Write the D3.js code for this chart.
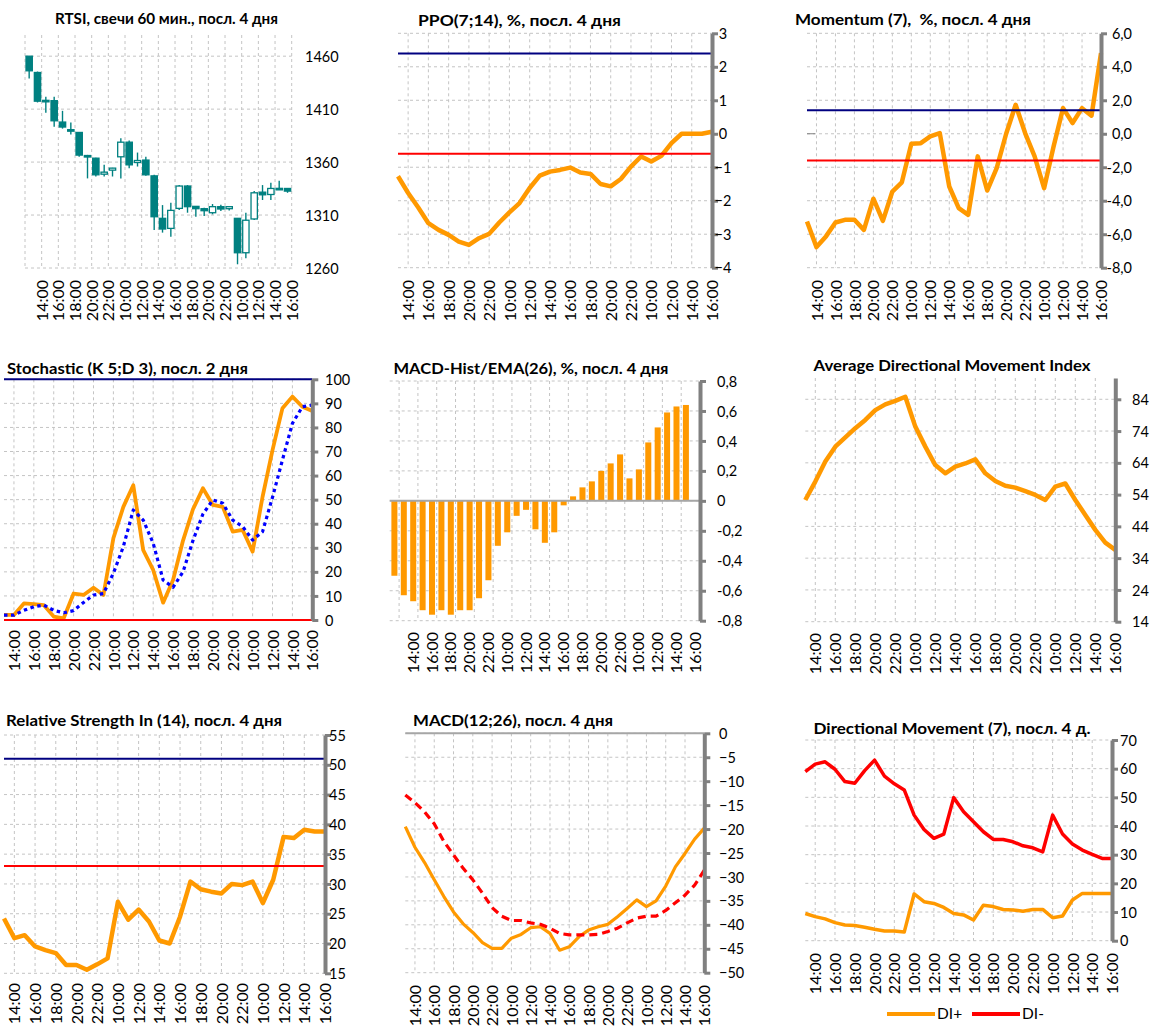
<!DOCTYPE html>
<html lang="ru">
<head>
<meta charset="utf-8">
<title>RTSI - индикаторы, посл. 4 дня</title>
<script src="https://cdn.jsdelivr.net/npm/d3@7"></script>
<style>
  body { margin: 0; background: #fff; }
  svg text { font-family: Lato, "Noto Sans", sans-serif; fill: #000; }
  .title { font-weight: bold; font-size: 15px; white-space: pre; }
  .yaxis .tick text { font-size: 14.5px; }
  .xaxis .tick text { font-size: 16px; }
  .grid line { stroke: #c4c4c4; stroke-width: 1; stroke-dasharray: 3,3; }
</style>
</head>
<body>
<svg id="chart" width="1157" height="1028"></svg>
<script>
// hourly bars, 32 of them over 3 sessions
var hours = ["13:00","14:00","15:00","16:00","17:00","18:00","19:00","20:00","21:00","22:00","23:00",
  "10:00","11:00","12:00","13:00","14:00","15:00","16:00","17:00","18:00","19:00","20:00","21:00","22:00","23:00",
  "10:00","11:00","12:00","13:00","14:00","15:00","16:00"];
var tickIdx = d3.range(1, 32, 2);

// RTSI candles
var cOpen  = [1460,1444.6,1418.3,1418,1397.8,1390.6,1388,1366.2,1363.7,1348.6,1352.4,1365,1378.8,1359.6,1361.9,1347,
              1306.9,1297.4,1316.3,1337.4,1318.2,1316,1312.2,1317.9,1316,1306.9,1274.4,1306.3,1331.6,1329.4,1335.2,1335.1];
var cHigh  = [1460,1445.5,1421.6,1421.6,1408.4,1397.5,1388.5,1366.8,1364,1357.4,1354.6,1382.6,1380.4,1369,1365,1348,
              1319.4,1321.6,1338.3,1338.3,1318.4,1316.9,1320.4,1319.7,1317.9,1307,1312.2,1332.6,1338.3,1340.4,1342.3,1335.3];
var cLow   = [1439,1416.3,1406.7,1393.4,1391.6,1386,1365,1344.6,1346.4,1346.4,1346.4,1344.6,1354.3,1355.8,1347,1295.9,
              1293.4,1289.6,1314.7,1312.2,1308.4,1309,1310.7,1313.8,1314.4,1263.5,1269.1,1305.3,1324.2,1324.2,1334.2,1331];
var cClose = [1446.2,1417.5,1417.8,1399,1393.1,1390.2,1366.6,1365.7,1348,1350.5,1354.3,1378.8,1357.4,1361.5,1348,1308.4,
              1296.8,1314.4,1337.4,1317.9,1316,1314.1,1317.9,1315.7,1317.9,1274.4,1305.1,1331,1329.1,1335.1,1334.8,1332.6];

var ppo = [-1.27,-1.77,-2.2,-2.67,-2.87,-3.02,-3.22,-3.32,-3.12,-2.99,-2.65,-2.35,-2.07,-1.62,-1.25,-1.13,
           -1.08,-1.01,-1.16,-1.2,-1.5,-1.57,-1.35,-0.98,-0.68,-0.83,-0.66,-0.28,0,0,0,0.06];
var momentum = [-5.24,-6.77,-6.13,-5.3,-5.14,-5.14,-5.74,-3.88,-5.2,-3.45,-2.9,-0.6,-0.56,-0.16,0.04,-3.15,
                -4.44,-4.84,-1.35,-3.39,-2.05,0,1.73,0.04,-1.35,-3.25,-0.76,1.53,0.64,1.53,1.08,4.82];
var stochK = [2.1,2.1,6.9,6.6,6.2,1.4,0.7,11,10.4,13.4,10.4,34,47,56,29,20.8,
              7.2,16.6,33,46,54.7,47.8,47,36.7,37.4,28.4,51.2,70.6,88,92.8,88.6,86.8];
var stochD = [2,2,4,5.5,6.2,4,3,3.9,7.3,10.4,11,19.4,30.5,45.7,41.5,31.9,
              16.6,13.6,20,33,44,49.9,48.5,41.5,38.8,33.2,36.7,51,66.5,81.7,88.6,89.3];
// histogram is one bar behind, last slot empty
var histHours = ["12:00"].concat(hours);
var macdHist = [-0.5,-0.63,-0.67,-0.73,-0.76,-0.73,-0.76,-0.73,-0.73,-0.65,-0.53,-0.3,-0.21,-0.1,-0.06,-0.19,
                -0.28,-0.21,-0.03,0.03,0.09,0.13,0.2,0.25,0.31,0.15,0.21,0.39,0.49,0.59,0.63,0.64,null];
var adx = [52.3,58.1,64.4,69.1,72,74.9,77.5,80.6,82.4,83.5,84.8,75.4,69.1,63.3,60.7,62.8,
           63.8,65.1,60.7,58.3,56.8,56.2,55.1,53.9,52.3,56.5,57.5,52.3,47.6,42.9,38.9,36.6];
var rsi = [24.2,20.9,21.4,19.5,18.9,18.4,16.4,16.4,15.6,16.5,17.5,27,24,25.7,23.7,20.5,
           20,24.5,30.4,29.1,28.7,28.4,30,29.8,30.4,26.8,30.7,37.9,37.7,39.1,38.8,38.8];
var macd = [-19.5,-23.8,-27,-30.6,-34.1,-37.3,-39.8,-41.6,-43.7,-44.9,-44.9,-42.8,-42,-40.6,-40.4,-41.8,
            -45.3,-44.6,-42.5,-41.1,-40.4,-39.9,-38.3,-36.6,-34.8,-36.2,-35,-31.9,-27.9,-25.1,-22.1,-19.8];
var signal = [-12.9,-14.5,-16.4,-18.9,-22.6,-25.4,-28.2,-30.6,-33.4,-36.4,-38.2,-39.1,-39.1,-39.6,-39.9,-40.7,
              -41.8,-42.1,-42.1,-42.1,-42,-41.4,-40.7,-39.6,-38.6,-38.2,-38.2,-37,-35.4,-33.8,-31.7,-28.6];
var diPlus = [9.5,8.4,7.6,6.3,5.5,5.3,4.7,4,3.4,3.4,3,16.3,13.6,13,11.6,9.5,
              9,7.2,12.4,11.9,10.9,10.7,10.3,10.9,10.9,8,8.6,14.2,16.5,16.5,16.5,16.5];
var diMinus = [59,61.6,62.4,59.8,55.5,54.9,59.3,63,57.4,54.7,52.6,43.8,38.8,35.7,37.2,49.9,
               45,41.5,38,35.3,35.3,34.5,33.1,32.4,31,43.8,37.2,33.7,31.6,30.1,28.7,28.7];

var svg = d3.select("#chart");
var AXIS = "#808080", ORANGE = "#ff9900", NAVY = "#000080", RED = "#ff0000", TEAL = "#008080";
var comma1 = function(v) { return v.toFixed(1).replace(".", ","); };

// titles are stretched to the width they take in the original
function title(txt, cx, by, wid) {
  svg.append("text").attr("class", "title").attr("x", cx).attr("y", by)
    .attr("text-anchor", "middle").attr("textLength", wid).attr("lengthAdjust", "spacingAndGlyphs")
    .text(txt);
}

function valueAxis(y, ticks, fmt, ax, lab, anchor, line) {
  var g = svg.append("g").attr("class", "yaxis").attr("transform", "translate(" + ax + ",0)")
    .call(d3.axisRight(y).tickValues(ticks).tickFormat(fmt).tickSize(line ? 6 : 0).tickSizeOuter(0));
  if (line) {
    g.select(".domain").attr("stroke", AXIS).attr("stroke-width", 4);
    g.selectAll(".tick line").attr("stroke", AXIS).attr("stroke-width", 3);
  } else {
    g.select(".domain").remove();
  }
  g.selectAll(".tick text").attr("x", lab - ax).attr("text-anchor", anchor).attr("dy", "0.35em");
}

function timeAxis(x, vals, fmt, top) {
  var g = svg.append("g").attr("class", "xaxis").attr("transform", "translate(0," + top + ")")
    .call(d3.axisBottom(x).tickValues(vals).tickFormat(fmt).tickSize(0));
  g.select(".domain").remove();
  g.selectAll(".tick text").attr("transform", "rotate(-90)").attr("text-anchor", "end")
    .attr("x", 0).attr("y", 0).attr("dy", "0.35em");
}

function linePanel(p) {
  var x = d3.scalePoint().domain(d3.range(32)).range([p.x0, p.x1]);
  var y = d3.scaleLinear().domain(p.domain).range([p.bottom, p.top]);
  var grid = svg.append("g").attr("class", "grid");
  grid.selectAll("line.v").data(tickIdx.slice(0, -1)).join("line").attr("class", "v")
    .attr("x1", function(d) { return x(d); }).attr("x2", function(d) { return x(d); })
    .attr("y1", p.top).attr("y2", p.bottom);
  grid.selectAll("line.h").data(p.ticks).join("line").attr("class", "h")
    .attr("x1", p.x0).attr("x2", p.x1)
    .attr("y1", function(d) { return y(d); }).attr("y2", function(d) { return y(d); });
  if (p.zeroLine) {
    svg.append("line").attr("x1", p.x0).attr("x2", p.x1).attr("y1", y(0)).attr("y2", y(0))
      .attr("stroke", "#a6a6a6").attr("stroke-width", 2);
  }
  if (p.stub) {
    svg.append("line").attr("x1", p.x0).attr("x2", p.x0 + 8).attr("y1", y(0)).attr("y2", y(0))
      .attr("stroke", AXIS).attr("stroke-width", 1);
  }
  var line = d3.line().x(function(d, i) { return x(i); }).y(function(d) { return y(d); });
  p.series.forEach(function(s) {
    svg.append("path").datum(s.values).attr("fill", "none").attr("stroke", s.color)
      .attr("stroke-width", s.width).attr("stroke-dasharray", s.dash || null)
      .attr("stroke-linejoin", "round").attr("d", line);
  });
  (p.hlines || []).forEach(function(h) {
    svg.append("line").attr("x1", p.x0).attr("x2", p.x1)
      .attr("y1", y(h.v)).attr("y2", y(h.v)).attr("stroke", h.color).attr("stroke-width", 2);
  });
  valueAxis(y, p.ticks, p.fmt, p.x1, p.labX, p.anchor || "start", true);
  timeAxis(x, tickIdx, function(i) { return hours[i]; }, p.xLab);
  title(p.title, p.tx, p.ty, p.tw);
}

// ---- RTSI candles ----
(function() {
  var xc = d3.scaleBand().domain(d3.range(32)).range([25, 291.7]);
  var xe = d3.scalePoint().domain(d3.range(33)).range(xc.range());   // bar edges
  var y = d3.scaleLinear().domain([1260, 1480]).range([268, 35]);
  var ticks = [1260, 1310, 1360, 1410, 1460];
  var grid = svg.append("g").attr("class", "grid");
  grid.selectAll("line.v").data(d3.range(0, 33, 2)).join("line").attr("class", "v")
    .attr("x1", function(d) { return xe(d); }).attr("x2", function(d) { return xe(d); })
    .attr("y1", 35).attr("y2", 268);
  grid.selectAll("line.h").data(ticks).join("line").attr("class", "h")
    .attr("x1", 25).attr("x2", 291.7)
    .attr("y1", function(d) { return y(d); }).attr("y2", function(d) { return y(d); });
  var bw = xc.bandwidth(), w = bw * 0.76;
  var idx = d3.range(32);
  svg.append("g").selectAll("line").data(idx).join("line")
    .attr("x1", function(i) { return xc(i) + bw / 2; }).attr("x2", function(i) { return xc(i) + bw / 2; })
    .attr("y1", function(i) { return y(cHigh[i]); }).attr("y2", function(i) { return y(cLow[i]); })
    .attr("stroke", TEAL).attr("stroke-width", 1.4);
  svg.append("g").selectAll("rect").data(idx).join("rect")
    .attr("x", function(i) { return xc(i) + (bw - w) / 2; }).attr("width", w)
    .attr("y", function(i) { return y(Math.max(cOpen[i], cClose[i])); })
    .attr("height", function(i) { return Math.max(1.5, Math.abs(y(cOpen[i]) - y(cClose[i]))); })
    .attr("fill", function(i) { return cClose[i] < cOpen[i] ? TEAL : "#fff"; })
    .attr("stroke", TEAL).attr("stroke-width", 1.3);
  valueAxis(y, ticks, d3.format("d"), 291.7, 305, "start", false);
  timeAxis(xe, d3.range(2, 33, 2), function(b) { return hours[b - 1]; }, 280);
  title("RTSI, свечи 60 мин., посл. 4 дня", 166.5, 24, 223);
})();

// ---- PPO ----
linePanel({
  x0: 398, x1: 712, top: 33.3, bottom: 267.7, domain: [-4, 3], ticks: d3.range(-4, 4),
  fmt: d3.format("d"), labX: 723, anchor: "middle", xLab: 280,
  series: [{ values: ppo, color: ORANGE, width: 4.5 }],
  hlines: [{ v: 2.4, color: NAVY }, { v: -0.6, color: RED }],
  title: "PPO(7;14), %, посл. 4 дня", tx: 519.5, ty: 26, tw: 203
});

// ---- Momentum ----
linePanel({
  x0: 807, x1: 1101, top: 33.3, bottom: 267.7, domain: [-8, 6], ticks: d3.range(-8, 7, 2),
  fmt: comma1, labX: 1132, anchor: "end", xLab: 280, stub: true,
  series: [{ values: momentum, color: ORANGE, width: 4.5 }],
  hlines: [{ v: 1.4, color: NAVY }, { v: -1.6, color: RED }],
  title: "Momentum (7),  %, посл. 4 дня", tx: 913, ty: 25, tw: 236
});

// ---- Stochastic ----
linePanel({
  x0: 4, x1: 312.3, top: 379.3, bottom: 620, domain: [0, 100], ticks: d3.range(0, 101, 10),
  fmt: d3.format("d"), labX: 325, xLab: 630,
  series: [{ values: stochK, color: ORANGE, width: 3.8 },
           { values: stochD, color: "#0000ff", width: 3.2, dash: "3.5,3.5" }],
  hlines: [{ v: 100, color: NAVY }, { v: 0, color: RED }],
  title: "Stochastic (K 5;D 3), посл. 2 дня", tx: 127.5, ty: 374, tw: 241
});

// ---- MACD-Hist/EMA(26) ----
(function() {
  var xb = d3.scaleBand().domain(d3.range(33)).range([389.7, 700]);
  var y = d3.scaleLinear().domain([-0.8, 0.8]).range([620.7, 381]);
  var ticks = [-0.8, -0.6, -0.4, -0.2, 0, 0.2, 0.4, 0.6, 0.8];
  var grid = svg.append("g").attr("class", "grid");
  grid.selectAll("line.v").data(d3.range(1, 32, 2)).join("line").attr("class", "v")
    .attr("x1", function(d) { return xb(d); }).attr("x2", function(d) { return xb(d); })
    .attr("y1", 381).attr("y2", 620.7);
  grid.selectAll("line.h").data(ticks).join("line").attr("class", "h")
    .attr("x1", 389.7).attr("x2", 700)
    .attr("y1", function(d) { return y(d); }).attr("y2", function(d) { return y(d); });
  var bw = xb.bandwidth();
  svg.append("g").selectAll("rect").data(d3.range(33).filter(function(i) { return macdHist[i] != null; }))
    .join("rect")
    .attr("x", function(i) { return xb(i) + bw * 0.18; }).attr("width", bw * 0.64)
    .attr("y", function(i) { return y(Math.max(0, macdHist[i])); })
    .attr("height", function(i) { return Math.abs(y(macdHist[i]) - y(0)); })
    .attr("fill", ORANGE);
  svg.append("line").attr("x1", 389.7).attr("x2", 700).attr("y1", y(0)).attr("y2", y(0))
    .attr("stroke", "#a6a6a6").attr("stroke-width", 2);
  valueAxis(y, ticks, function(v) { return v === 0 ? "0" : comma1(v); }, 700, 717, "start", true);
  timeAxis(xb, d3.range(2, 33, 2), function(j) { return histHours[j]; }, 632);
  title("MACD-Hist/EMA(26), %, посл. 4 дня", 531, 374, 275);
})();

// ---- ADX ----
linePanel({
  x0: 805.3, x1: 1115.3, top: 378, bottom: 621.7, domain: [14, 90.7], ticks: d3.range(14, 85, 10),
  fmt: d3.format("d"), labX: 1132, xLab: 633,
  series: [{ values: adx, color: ORANGE, width: 4.5 }],
  title: "Average Directional Movement Index", tx: 952, ty: 371, tw: 277
});

// ---- RSI ----
linePanel({
  x0: 4, x1: 325, top: 735, bottom: 973.3, domain: [15, 55], ticks: d3.range(15, 56, 5),
  fmt: d3.format("d"), labX: 329, xLab: 983,
  series: [{ values: rsi, color: ORANGE, width: 4.5 }],
  hlines: [{ v: 51, color: NAVY }, { v: 33, color: RED }],
  title: "Relative Strength In (14), посл. 4 дня", tx: 144, ty: 726, tw: 276
});

// ---- MACD ----
linePanel({
  x0: 405.3, x1: 704.3, top: 733.3, bottom: 972.7, domain: [-50, 0], ticks: d3.range(-50, 1, 5),
  fmt: d3.format("d"), labX: 719, xLab: 985, zeroLine: true,
  series: [{ values: macd, color: ORANGE, width: 3.2 },
           { values: signal, color: RED, width: 3.2, dash: "8,5" }],
  title: "MACD(12;26), посл. 4 дня", tx: 513, ty: 726, tw: 200
});

// ---- Directional Movement ----
linePanel({
  x0: 805.3, x1: 1112, top: 740, bottom: 940.7, domain: [0, 70], ticks: d3.range(0, 71, 10),
  fmt: d3.format("d"), labX: 1120, xLab: 953,
  series: [{ values: diPlus, color: ORANGE, width: 3.5 },
           { values: diMinus, color: RED, width: 3.5 }],
  title: "Directional Movement (7), посл. 4 д.", tx: 952, ty: 734, tw: 277
});

// legend
var legend = [{ name: "DI+", color: ORANGE }, { name: "DI-", color: RED }];
var lg = svg.append("g").selectAll("g").data(legend).join("g")
  .attr("transform", function(d, i) { return "translate(" + (887 + i * 85) + ",1014)"; });
lg.append("line").attr("x1", 0).attr("x2", 48).attr("stroke", function(d) { return d.color; }).attr("stroke-width", 4);
lg.append("text").attr("x", 50).attr("dy", "0.35em").style("font-size", "15.5px").text(function(d) { return d.name; });
</script>
</body>
</html>
